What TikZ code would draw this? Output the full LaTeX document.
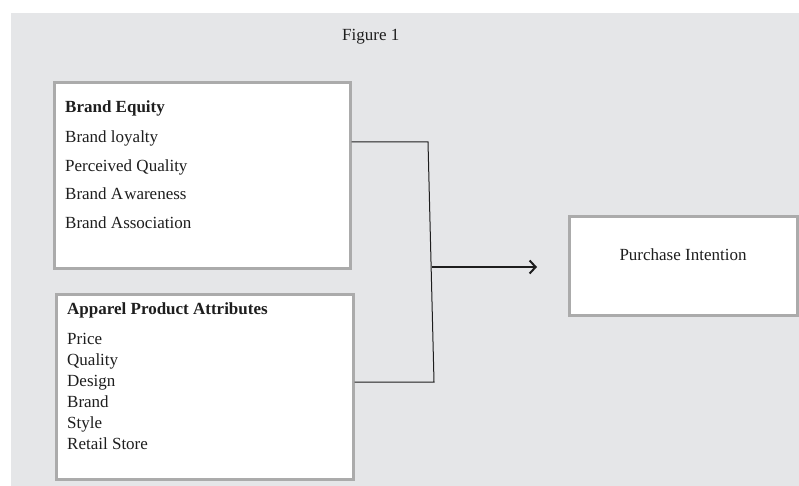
\documentclass[tikz,border=0pt]{standalone}
\usepackage{fontspec}
\setmainfont{Liberation Serif}
\usetikzlibrary{arrows.meta,calc}
\definecolor{bg}{HTML}{E5E6E8}
\definecolor{boxline}{HTML}{ABABAB}
\definecolor{ink}{HTML}{1E1E1E}
\tikzset{
  panel/.style={draw=boxline, line width=3pt, fill=white, inner sep=0pt, anchor=north west},
  txt/.style={anchor=base west, inner sep=0pt, text=ink, font=\fontsize{17}{20}\selectfont},
  btxt/.style={txt, font=\fontsize{17}{20}\selectfont\bfseries},
  link/.style={draw=ink, line width=1pt},
  arrowline/.style={draw=ink, line width=2pt, -{Straight Barb[length=6pt,width=13pt,line width=2pt]}}
}
\begin{document}
\begin{tikzpicture}[x=1pt,y=-1pt]
\useasboundingbox (0,0) rectangle (799,486);
\fill[white] (0,0) rectangle (799,486);
\fill[bg] (11,13) rectangle (799,486);
\node[txt] (fig) at (342,41) {Figure 1};
% boxes
\node[panel, minimum width=296pt, minimum height=185pt] (box1) at (52.5,81.5) {};
\node[panel, minimum width=297pt, minimum height=185pt] (box2) at (54.5,292.5) {};
\node[panel, minimum width=228pt, minimum height=99pt] (box3) at (567.5,214.5) {};
% box 1 text
\node[btxt] (be) at (65,113) {Brand Equity};
\node[txt] (bl) at (65,143) {Brand loyalty};
\node[txt] (pq) at (65,172) {Perceived Quality};
\node[txt] (ba) at (65,200) {Brand A\kern1pt wareness};
\node[txt] (bas) at (65,229) {Brand Association};
% box 2 text
\node[btxt] (apa) at (67,314) {Apparel Product Attributes};
\node[txt] (pr) at (67,344) {Price};
\node[txt] (ql) at (67,365) {Quality};
\node[txt] (ds) at (67,386) {Design};
\node[txt] (br) at (67,407) {Brand};
\node[txt] (st) at (67,428) {Style};
\node[txt] (rs) at (67,449) {Retail Store};
% box 3 text
\node[txt, anchor=base] (pi) at (box3.center |- 0,260) {Purchase Intention};
% connectors
\coordinate (j1) at (428,142);
\coordinate (j2) at (434,382);
\coordinate (jm) at (432,267);
\coordinate (tip) at (537,267);
\draw[link] (box1.east |- j1) -- (j1) -- (j2) -- (box2.east |- j2);
\draw[arrowline] (jm) -- (tip);
\end{tikzpicture}
\end{document}
